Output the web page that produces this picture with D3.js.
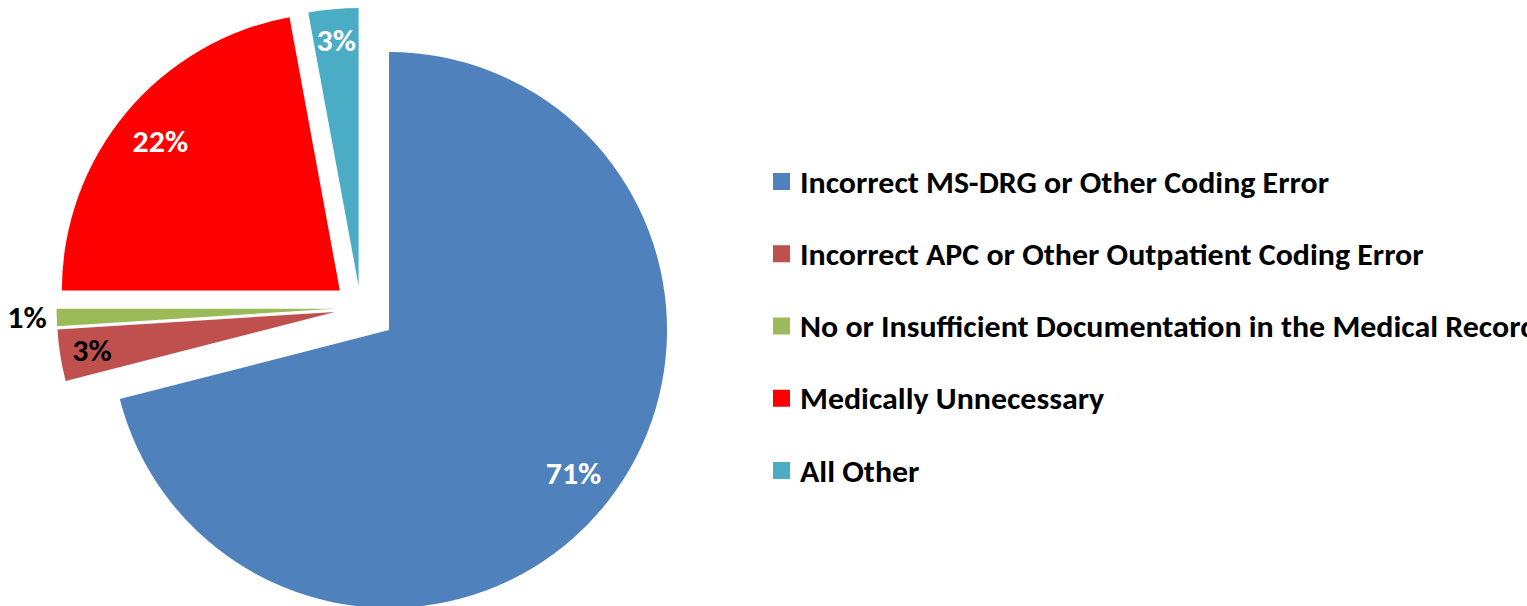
<!DOCTYPE html>
<html>
<head>
<meta charset="utf-8">
<script src="https://cdn.jsdelivr.net/npm/d3@7"></script>
<style>
body{margin:0;background:#fff;overflow:hidden}
text{font-family:Carlito,Lato,"Open Sans",sans-serif;font-weight:bold}
</style>
</head>
<body>
<svg id="chart"></svg>
<script>
var categories = [
	"Incorrect MS-DRG or Other Coding Error",
	"Incorrect APC or Other Outpatient Coding Error",
	"No or Insufficient Documentation in the Medical Record",
	"Medically Unnecessary",
	"All Other"
];
var values = [71.0, 3.0, 1.0, 22.1, 2.9];
var pctLabels = ["71%", "3%", "1%", "22%", "3%"];
var colors = ["#4F81BD", "#C0504D", "#9BBB59", "#FF0000", "#4BACC6"];
var labelColors = ["#fff", "#000", "#000", "#fff", "#fff"];
var explode = [36, 26, 26, 27, 22];

var w = 1527, h = 606;
var cx = 360.6, cy = 307.9, r = 278;
var fontSize = 30;

var svg = d3.select('#chart').attr('width', w).attr('height', h);

var data = categories.map(function(c, i) {
	return {name: c, value: values[i], label: pctLabels[i], color: colors[i], lc: labelColors[i], ex: explode[i]};
});

var pie = d3.pie().sort(null).value(function(d) { return d.value; });
var arc = d3.arc().innerRadius(0).outerRadius(r);
var arcs = pie(data);

function mid(a) { return (a.startAngle + a.endAngle) / 2; }
function labelR(d) {
	if (d.data.value < 2) return r + 10;   // tiny slice: label sits outside
	return d.data.value < 5 ? r * 0.885 : r * 0.84;
}

var g = svg.append('g').attr('transform', 'translate(' + cx + ',' + cy + ')');

var slice = g.selectAll('g.slice')
	.data(arcs)
	.join('g')
	.attr('class', 'slice')
	.attr('transform', function(d) {
		var m = mid(d);
		return 'translate(' + (Math.sin(m) * d.data.ex) + ',' + (-Math.cos(m) * d.data.ex) + ')';
	});

slice.append('path')
	.attr('d', arc)
	.attr('fill', function(d) { return d.data.color; });

slice.append('text')
	.attr('class', 'lbl')
	.text(function(d) { return d.data.label; })
	.attr('x', function(d) { return Math.sin(mid(d)) * labelR(d); })
	.attr('y', function(d) { return -Math.cos(mid(d)) * labelR(d); })
	.attr('text-anchor', function(d) { return d.data.value < 2 ? 'end' : 'middle'; })
	.attr('dy', '0.35em')
	.attr('font-size', fontSize)
	.attr('fill', function(d) { return d.data.lc; });

// legend
var ly = d3.scalePoint().domain(categories).range([182, 471]);
var leg = svg.append('g').selectAll('g')
	.data(data)
	.join('g')
	.attr('transform', function(d) { return 'translate(773,' + ly(d.name) + ')'; });

leg.append('rect')
	.attr('x', 0).attr('y', -9)
	.attr('width', 17).attr('height', 17)
	.attr('fill', function(d) { return d.color; });

leg.append('text')
	.attr('class', 'leg')
	.attr('x', 27)
	.attr('dy', '0.35em')
	.attr('font-size', fontSize)
	.attr('fill', '#000')
	.text(function(d) { return d.name; });

// squeeze to Calibri-like width
var first = svg.select('text.leg').node().getComputedTextLength();
var k = 529 / first;
svg.selectAll('text').each(function() {
	var t = d3.select(this);
	t.attr('textLength', this.getComputedTextLength() * k).attr('lengthAdjust', 'spacingAndGlyphs');
});
</script>
</body>
</html>
